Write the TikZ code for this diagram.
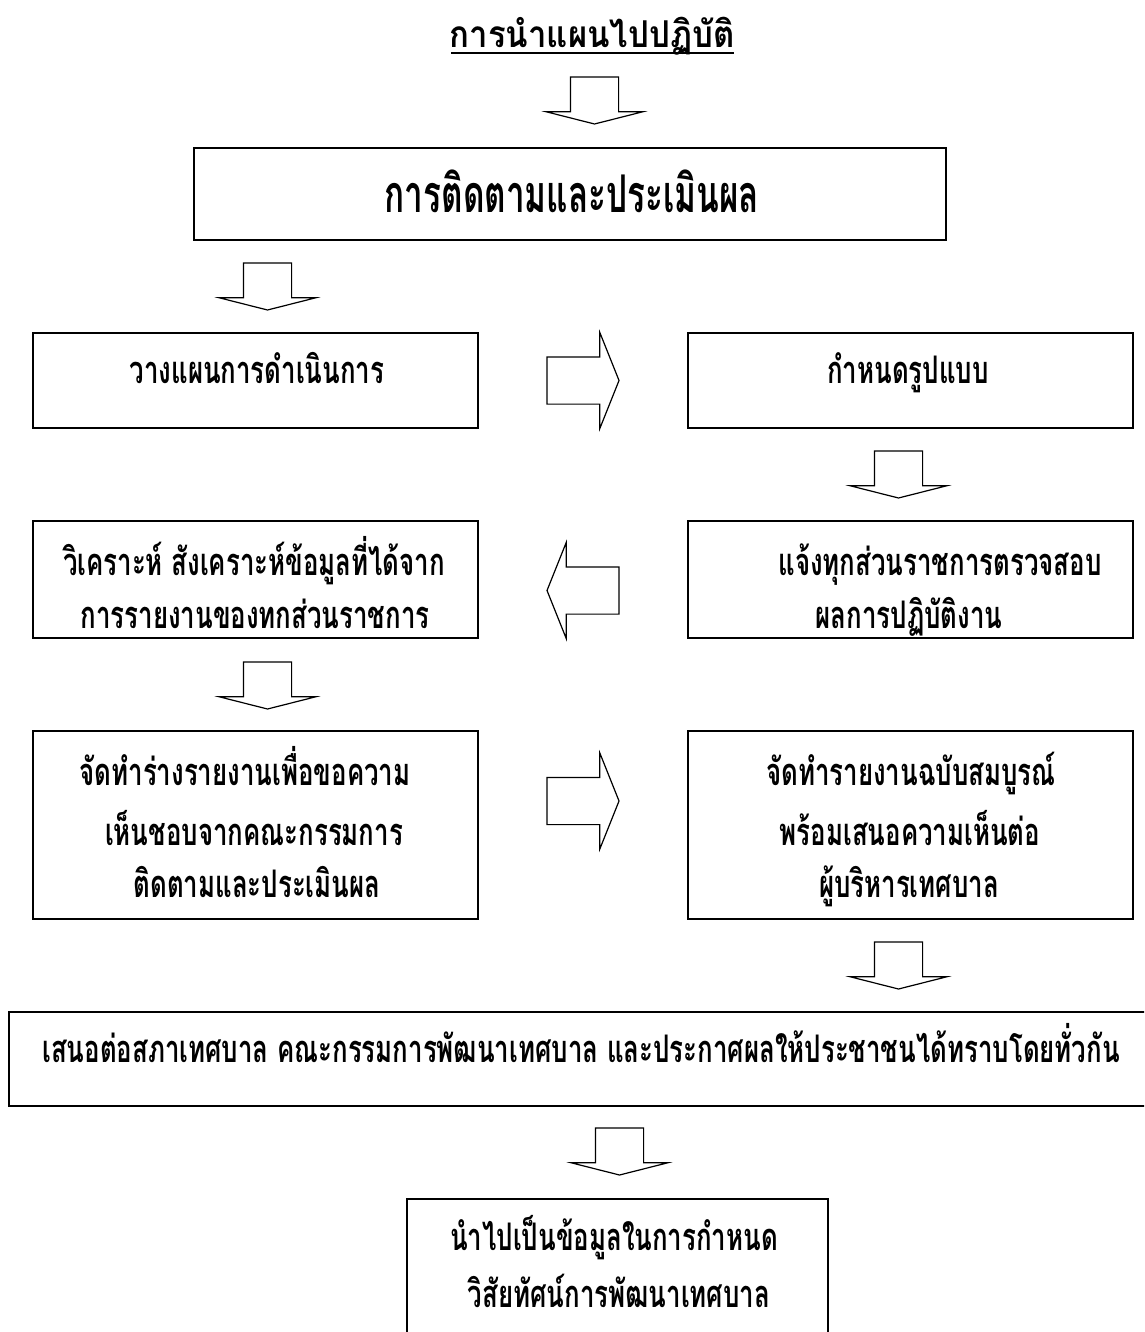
\documentclass[tikz,border=0pt]{standalone}
\usepackage{fontspec}
\usetikzlibrary{shapes.arrows}
\newfontfamily\thaibody[Script=Thai,FakeStretch=0.68]{Loma}
\newfontfamily\thaititle[Script=Thai,FakeStretch=0.89]{Loma}
\newfontfamily\thaibig[Script=Thai,FakeStretch=0.64]{Loma}
\tikzset{
  box/.style={draw, line width=1.6pt, inner sep=0pt, outer sep=0pt, anchor=north west},
  txt/.style={anchor=base, inner sep=0pt, font=\thaibody\bfseries\fontsize{38}{44}\selectfont},
  blk/.style={draw, line width=1.2pt, single arrow, single arrow head indent=0pt,
    inner xsep=0pt, outer sep=0pt, minimum width=0pt,
    text height=0pt, text depth=0pt, text width=0pt, anchor=tail},
  downblk/.style={blk, rotate=-90, inner ysep=23.5pt, single arrow head extend=24pt,
    minimum height=47pt, single arrow tip angle=151.6},
  sideblk/.style={blk, inner ysep=23pt, single arrow head extend=24.5pt,
    minimum height=72pt, single arrow tip angle=136.4},
}
\begin{document}
\begin{tikzpicture}[x=1pt,y=-1pt]
\clip (0,0) rectangle (1144,1332);
\fill[white] (0,0) rectangle (1144,1332);
% title
\node[anchor=base, inner sep=0pt, font=\thaititle\bfseries\fontsize{37}{44}\selectfont] (title) at (592,48) {การนำแผนไปปฏิบัติ};
\draw[line width=1.8pt] (451,53) -- (734,53);
% boxes
\node[box, minimum width=752pt, minimum height=92pt] (b1) at (194,148) {};
\node[box, minimum width=445pt, minimum height=95pt] (b2) at (33,333) {};
\node[box, minimum width=445pt, minimum height=95pt] (b3) at (688,333) {};
\node[box, minimum width=445pt, minimum height=117pt] (b4) at (688,521) {};
\node[box, minimum width=445pt, minimum height=117pt] (b5) at (33,521) {};
\node[box, minimum width=445pt, minimum height=188pt] (b6) at (33,731) {};
\node[box, minimum width=445pt, minimum height=188pt] (b7) at (688,731) {};
\node[box, minimum width=1200pt, minimum height=94pt] (b8) at (9,1012) {};
\node[box, minimum width=421pt, minimum height=200pt] (b9) at (407,1199) {};
% texts
\node[anchor=base, inner sep=0pt, font=\thaibig\bfseries\fontsize{52}{60}\selectfont] (t1) at (572,213) {การติดตามและประเมินผล};
\node[txt] (t2) at (257,383) {วางแผนการดำเนินการ};
\node[txt] (t3) at (908,383) {กำหนดรูปแบบ};
\node[txt] (t4a) at (940,575) {แจ้งทุกส่วนราชการตรวจสอบ};
\node[txt] (t4b) at (909,628) {ผลการปฏิบัติงาน};
\node[txt] (t5a) at (254,575) {วิเคราะห์ สังเคราะห์ข้อมูลที่ได้จาก};
\node[txt] (t5b) at (255,628) {การรายงานของทกส่วนราชการ};
\node[txt] (t6a) at (245,785) {จัดทำร่างรายงานเพื่อขอความ};
\node[txt] (t6b) at (254,845) {เห็นชอบจากคณะกรรมการ};
\node[txt] (t6c) at (257,897) {ติดตามและประเมินผล};
\node[txt] (t7a) at (911,785) {จัดทำรายงานฉบับสมบูรณ์};
\node[txt] (t7b) at (910,845) {พร้อมเสนอความเห็นต่อ};
\node[txt] (t7c) at (909,897) {ผู้บริหารเทศบาล};
\node[txt] (t8) at (581,1062) {เสนอต่อสภาเทศบาล คณะกรรมการพัฒนาเทศบาล และประกาศผลให้ประชาชนได้ทราบโดยทั่วกัน};
\node[txt] (t9a) at (614,1250) {นำไปเป็นข้อมูลในการกำหนด};
\node[txt] (t9b) at (619,1307) {วิสัยทัศน์การพัฒนาเทศบาล};
% block arrows
\node[downblk] (a1) at (594.5,77) {};
\node[downblk] (a2) at (267.5,263) {};
\node[sideblk] (a3) at (547,380.5) {};
\node[downblk] (a4) at (898.5,451) {};
\node[sideblk, rotate=180] (a5) at (619,590.5) {};
\node[downblk] (a6) at (267.5,662) {};
\node[sideblk] (a7) at (547,801) {};
\node[downblk] (a8) at (898.5,942) {};
\node[downblk] (a9) at (619.5,1128) {};
\end{tikzpicture}
\end{document}
